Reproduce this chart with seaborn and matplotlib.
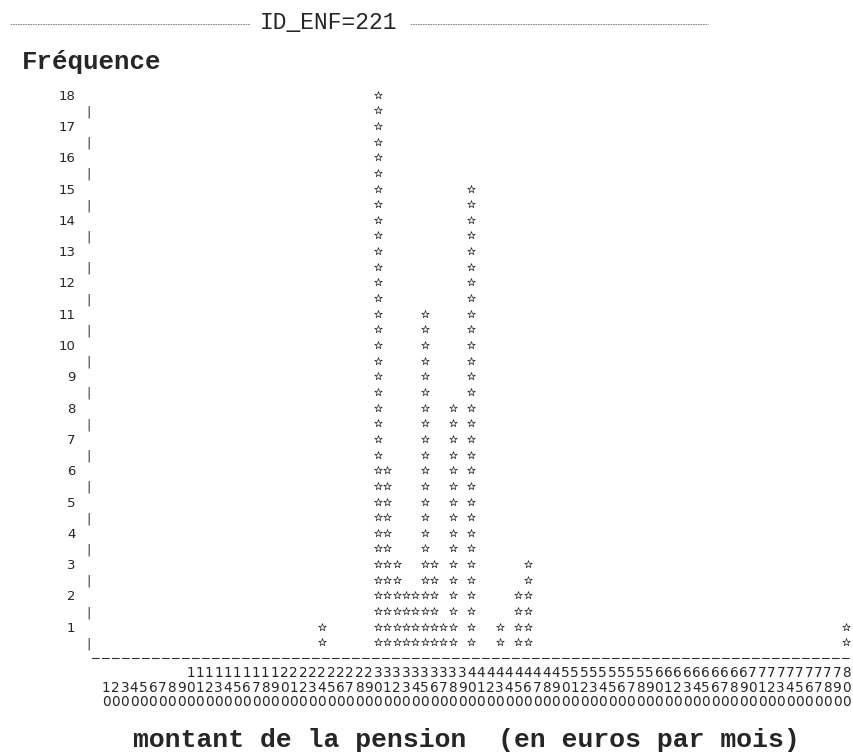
import numpy as np
import pandas as pd
import matplotlib
matplotlib.use("Agg")
import matplotlib.pyplot as plt
from matplotlib.lines import Line2D
import seaborn as sns

# montant de la pension (classes de 10 euros) et effectifs
montants = [240, 300, 310, 320, 330, 340, 350, 360, 370, 380, 400, 430, 450, 460, 800]
effectifs = [1, 18, 6, 3, 2, 2, 11, 3, 1, 8, 15, 1, 2, 3, 1]
classes = list(range(10, 810, 10))
freq_ticks = list(range(1, 19))

# %% one star per half unit of frequency, like the line-printer chart
rows = []
for m, n in zip(montants, effectifs):
    for y in np.arange(0.5, n + 0.5, 0.5):
        rows.append({"montant": m, "niveau": y})
stars = pd.DataFrame(rows)

# %% Plot
sns.set_style("white")
fig = plt.figure(figsize=(8.54, 7.53), dpi=100)
ax = fig.add_axes([92 / 854, 1 - 658 / 753, (851 - 92) / 854, (658 - 79) / 753])
sns.scatterplot(data=stars, x="montant", y="niveau", marker="*", s=32,
                color="white", edgecolor="#222222", linewidth=0.5, legend=False, ax=ax)
ax.set_xlim(-5, 805)
ax.set_ylim(0, 18.5)

for side in ["top", "right", "left"]:
    ax.spines[side].set_visible(False)
ax.spines["bottom"].set_linestyle((0, (6, 3)))
ax.spines["bottom"].set_linewidth(0.8)
ax.spines["bottom"].set_color("#333333")

ax.set_yticks(freq_ticks)
ax.set_yticklabels([str(k) for k in freq_ticks])
ax.set_yticks([k - 0.5 for k in freq_ticks], minor=True)
ax.set_yticklabels(["|"] * len(freq_ticks), minor=True)
ax.tick_params(axis="y", which="major", length=0, pad=12, labelsize=9.5)
ax.tick_params(axis="y", which="minor", length=0, pad=1, labelsize=9.5, labelcolor="#444444")

ax.set_xticks(classes)
ax.set_xticklabels(["\n".join(f"{c:>3}") for c in classes])
ax.tick_params(axis="x", length=0, pad=6, labelsize=9.8)
for lbl in ax.get_xticklabels():
    lbl.set_linespacing(1.02)
ax.set_xlabel("")
ax.set_ylabel("")

fig.text(329 / 854, 1 - 22 / 753, "ID_ENF=221", family="Liberation Mono",
         size=16.5, ha="center", va="center")
for x0, x1 in [(10, 250), (410, 708)]:
    fig.add_artist(Line2D([x0 / 854, x1 / 854], [1 - 24 / 753] * 2, transform=fig.transFigure,
                          ls=(0, (2, 1)), color="0.45", lw=0.6))
fig.text(22 / 854, 1 - 62 / 753, "Fréquence", family="Liberation Mono",
         weight="bold", size=18.5, ha="left", va="center")
fig.text(466 / 854, 1 - 740 / 753, "montant de la pension  (en euros par mois)",
         family="Liberation Mono", weight="bold", size=19, ha="center", va="center")

fig.savefig("out.png", dpi=100)
